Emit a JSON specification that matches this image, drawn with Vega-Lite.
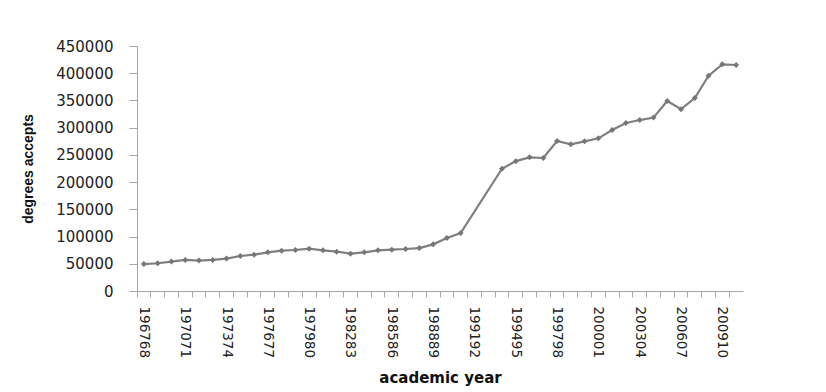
{
  "$schema": "https://vega.github.io/schema/vega-lite/v6.json",
  "width": 606,
  "height": 245,
  "autosize": {"type": "none"},
  "padding": {"left": 137, "top": 46, "right": 83, "bottom": 101},
  "background": "white",
  "config": {"view": {"stroke": null}},
  "data": {
    "values": [
      {"year": "196768", "value": 49500},
      {"year": "196869", "value": 51000},
      {"year": "196970", "value": 54000},
      {"year": "197071", "value": 57000},
      {"year": "197172", "value": 55800},
      {"year": "197273", "value": 57000},
      {"year": "197374", "value": 59500},
      {"year": "197475", "value": 64300},
      {"year": "197576", "value": 66700},
      {"year": "197677", "value": 71000},
      {"year": "197778", "value": 74100},
      {"year": "197879", "value": 75300},
      {"year": "197980", "value": 77700},
      {"year": "198081", "value": 74700},
      {"year": "198182", "value": 72200},
      {"year": "198283", "value": 68600},
      {"year": "198384", "value": 71000},
      {"year": "198485", "value": 74700},
      {"year": "198586", "value": 75900},
      {"year": "198687", "value": 77100},
      {"year": "198788", "value": 78900},
      {"year": "198889", "value": 85700},
      {"year": "198990", "value": 97500},
      {"year": "199091", "value": 106500},
      {"year": "199394", "value": 224500},
      {"year": "199495", "value": 238500},
      {"year": "199596", "value": 245500},
      {"year": "199697", "value": 244300},
      {"year": "199798", "value": 275500},
      {"year": "199899", "value": 269400},
      {"year": "199900", "value": 274900},
      {"year": "200001", "value": 280400},
      {"year": "200102", "value": 295700},
      {"year": "200203", "value": 308500},
      {"year": "200304", "value": 314000},
      {"year": "200405", "value": 318500},
      {"year": "200506", "value": 349000},
      {"year": "200607", "value": 334000},
      {"year": "200708", "value": 354500},
      {"year": "200809", "value": 395500},
      {"year": "200910", "value": 416400},
      {"year": "201011", "value": 415100}
    ]
  },
  "layer": [
    {
      "mark": {"type": "line", "color": "#7f7f7f", "strokeWidth": 2.2},
      "encoding": {
        "x": {
          "field": "year",
          "type": "ordinal",
          "sort": null,
          "scale": {
            "type": "band",
            "paddingInner": 0,
            "paddingOuter": 0,
            "domain": ["196768","196869","196970","197071","197172","197273","197374","197475","197576","197677","197778","197879","197980","198081","198182","198283","198384","198485","198586","198687","198788","198889","198990","199091","199192","199293","199394","199495","199596","199697","199798","199899","199900","200001","200102","200203","200304","200405","200506","200607","200708","200809","200910","201011"]
          },
          "axis": {
            "orient": "bottom",
            "title": "academic year",
            "titleFont": "DejaVu Sans",
            "titleFontSize": 15,
            "titleFontWeight": "bold",
            "titleColor": "#111",
            "titlePadding": 13,
            "labelExpr": "indexof(['196768','197071','197374','197677','197980','198283','198586','198889','199192','199495','199798','200001','200304','200607','200910'], datum.value) >= 0 ? datum.value : ''",
            "labelAngle": 90,
            "labelFont": "DejaVu Sans",
            "labelFontSize": 13.5,
            "labelColor": "#222",
            "labelPadding": 15,
            "labelOverlap": false,
            "ticks": false,
            "tickSize": 0,
            "domainColor": "#a6a6a6",
            "domainWidth": 1,
            "grid": false
          }
        },
        "y": {
          "field": "value",
          "type": "quantitative",
          "scale": {"domain": [0, 450000], "nice": false},
          "axis": {
            "orient": "left",
            "title": "degrees accepts",
            "titleFont": "Liberation Sans",
            "titleFontSize": 14,
            "titleFontWeight": "bold",
            "titleColor": "#111",
            "titlePadding": 20,
            "values": [0, 50000, 100000, 150000, 200000, 250000, 300000, 350000, 400000, 450000],
            "format": "d",
            "labelFont": "DejaVu Sans",
            "labelFontSize": 15,
            "labelColor": "#222",
            "labelPadding": 16,
            "tickSize": 8,
            "tickColor": "#a6a6a6",
            "domainColor": "#a6a6a6",
            "grid": false
          }
        }
      }
    },
    {
      "mark": {"type": "point", "shape": "diamond", "filled": true, "size": 36, "color": "#777777", "opacity": 1},
      "encoding": {
        "x": {
          "field": "year",
          "type": "ordinal",
          "sort": null,
          "axis": {
            "orient": "bottom",
            "title": null,
            "labels": false,
            "domain": false,
            "ticks": true,
            "tickSize": 6,
            "tickColor": "#a6a6a6",
            "bandPosition": 0,
            "grid": false
          }
        },
        "y": {"field": "value", "type": "quantitative", "axis": null}
      }
    }
  ],
  "resolve": {"axis": {"x": "independent", "y": "independent"}}
}
